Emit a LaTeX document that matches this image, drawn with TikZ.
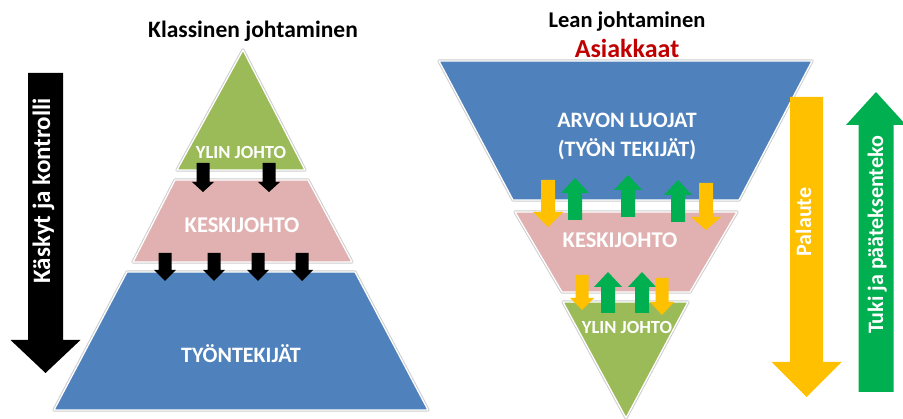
\documentclass[tikz,border=0pt]{standalone}
\usepackage{fontspec}
\setmainfont{Carlito}
\definecolor{layerblue}{HTML}{4F81BD}
\definecolor{layerpink}{HTML}{E0B1B0}
\definecolor{layergreen}{HTML}{9BBB59}
\definecolor{feedyellow}{HTML}{FFC000}
\definecolor{supportgreen}{HTML}{00B050}
\definecolor{custred}{HTML}{C00000}

% block arrow: colour, centre x, tail y, head base y, tip y, shaft half width, head half width
\newcommand{\blockarr}[7]{%
  \fill[#1] ({#2-#6},#3) -- ({#2+#6},#3) -- ({#2+#6},#4) -- ({#2+#7},#4)
    -- (#2,#5) -- ({#2-#7},#4) -- ({#2-#6},#4) -- cycle;}

\begin{document}
\begin{tikzpicture}[x=1pt,y=-1pt,
  layer/.style={draw=white, line width=1.3pt, line join=round,
    preaction={draw=black!20, line width=3.2pt, line join=round}},
  lbl/.style={text=white, font=\bfseries, inner sep=0pt, anchor=base},
  title/.style={text=black, font=\bfseries, inner sep=0pt, anchor=base},
  vlbl/.style={text=white, font=\bfseries, inner sep=0pt, anchor=base, rotate=90}]
\useasboundingbox (0,0) rectangle (903,419);

% ---------- classic pyramid ----------
\node[title, font=\bfseries\fontsize{23.5}{27}\selectfont] (tclassic) at (253,38) {Klassinen johtaminen};

\path[layer, fill=layergreen] (243,50) -- (305,170) -- (177,170) -- cycle;
\path[layer, fill=layerpink] (175,180) -- (308,180) -- (352,262) -- (133,262) -- cycle;
\path[layer, fill=layerblue] (127,272) -- (355,272) -- (428,410) -- (54,410) -- cycle;

\node[lbl, font=\bfseries\fontsize{18.5}{22}\selectfont] (cylin) at (241,159) {YLIN JOHTO};
\node[lbl, font=\bfseries\fontsize{22.5}{26}\selectfont] (ckeski) at (242,233) {KESKIJOHTO};
\node[lbl, font=\bfseries\fontsize{22}{26}\selectfont] (ctyo) at (241,363) {TYÖNTEKIJÄT};

% commands flowing downwards
\blockarr{black}{203}{163}{182}{192}{6.5}{11}
\blockarr{black}{269}{163}{182}{192}{6.5}{11}
\blockarr{black}{165}{253}{270}{281}{6.5}{11}
\blockarr{black}{214}{253}{270}{281}{6.5}{11}
\blockarr{black}{258}{253}{270}{281}{6.5}{11}
\blockarr{black}{302}{253}{270}{281}{6.5}{11}

% big command arrow
\blockarr{black}{45.5}{73}{340}{373}{17.5}{35}
\node[vlbl, font=\bfseries\fontsize{25}{28}\selectfont] (kasky) at (50,191) {Käskyt ja kontrolli};

% ---------- lean pyramid ----------
\node[title, font=\bfseries\fontsize{22.5}{26}\selectfont] (tlean) at (627,28) {Lean johtaminen};
\node[title, text=custred, font=\bfseries\fontsize{26}{30}\selectfont] (asiak) at (627,58) {Asiakkaat};

\path[layer, fill=layerblue] (439,61) -- (812,61) -- (739,200) -- (513,200) -- cycle;
\path[layer, fill=layerpink] (515,212) -- (737,212) -- (690,292) -- (562,292) -- cycle;
\path[layer, fill=layergreen] (563,302) -- (688,302) -- (626,418) -- cycle;

\node[lbl, font=\bfseries\fontsize{22}{26}\selectfont] (larvo) at (627,128) {ARVON LUOJAT};
\node[lbl, font=\bfseries\fontsize{22}{26}\selectfont] (ltek) at (627,157) {(TYÖN TEKIJÄT)};
\node[lbl, font=\bfseries\fontsize{22.5}{26}\selectfont] (lkeski) at (620,248) {KESKIJOHTO};
\node[lbl, font=\bfseries\fontsize{18.5}{22}\selectfont] (lylin) at (627,334) {YLIN JOHTO};

% feedback down, support up: between creators and middle management
\blockarr{feedyellow}{548}{180}{212}{227}{7}{15}
\blockarr{supportgreen}{575}{220}{193}{178}{7}{14}
\blockarr{supportgreen}{628}{217}{190}{175}{7}{14}
\blockarr{supportgreen}{678}{222}{195}{180}{7}{14}
\blockarr{feedyellow}{706}{183}{217}{230}{7}{15}
% between middle and top management
\blockarr{feedyellow}{582}{275}{298}{310}{6.5}{12}
\blockarr{supportgreen}{608}{313}{287}{272}{7}{14}
\blockarr{supportgreen}{642}{313}{287}{272}{7}{14}
\blockarr{feedyellow}{662}{278}{302}{315}{6.5}{12}

% big feedback and support arrows
\blockarr{feedyellow}{806.5}{97}{362}{397}{16.5}{35}
\node[vlbl, font=\bfseries\fontsize{22}{26}\selectfont] (palaute) at (811,222) {Palaute};
\blockarr{supportgreen}{876}{392}{125}{92}{17.5}{30}
\node[vlbl, font=\bfseries\fontsize{22}{26}\selectfont] (tuki) at (883,235) {Tuki ja pääteksenteko};
\end{tikzpicture}
\end{document}
